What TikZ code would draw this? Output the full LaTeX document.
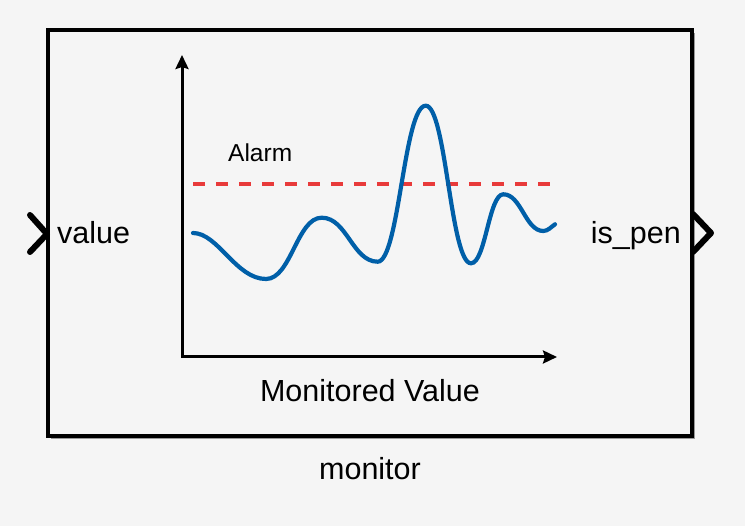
\documentclass[tikz,border=0pt]{standalone}
\usepackage{fontspec}
\setmainfont{Liberation Sans}
\usetikzlibrary{arrows.meta,shadows}
\definecolor{bggray}{HTML}{F5F5F5}
\definecolor{curveblue}{HTML}{005FA8}
\definecolor{alarmred}{HTML}{E83A3A}

\begin{document}
\begin{tikzpicture}[x=1pt,y=-1pt,
  label/.style={inner sep=0pt, anchor=base, font=\fontsize{30.5}{36}\selectfont},
  axis/.style={line width=3pt, line cap=rect, -{Stealth[length=14pt,width=13pt,inset=2pt]}},
  port/.style={line width=6pt, line cap=round, line join=round},
  alarm/.style={draw=alarmred, line width=3.8pt, dash pattern=on 12pt off 11pt},
  curve/.style={draw=curveblue, line width=4.2pt, line cap=round},
  block/.style={draw, line width=3.2pt, fill=bggray, minimum width=644pt, minimum height=406pt,
    drop shadow={shadow xshift=3pt, shadow yshift=-3pt, fill=black!40, opacity=1}}]

\fill[bggray] (0,0) rectangle (745,526);
\useasboundingbox (0,0) rectangle (745,526);

\node[block] (blk) at (370,233) {};

\draw[port] (30,215) -- (47,234) -- (30,252);
\draw[port] (693,214) -- (711,233) -- (693,252);

\node[label, anchor=base west] (inlbl) at (57,244) {value};
\node[label, anchor=base east] (outlbl) at (681,244) {is\_pen};
\node[label] (blkname) at (370,480) {monitor};

\coordinate (origin) at (182,357);
\coordinate (ytop) at (182,55);
\coordinate (xend) at (557,357);
\draw[axis] (origin) -- (ytop);
\draw[axis] (origin) -- (xend);
\node[label] (xlbl) at (370,402) {Monitored Value};

\node[label, anchor=base west, font=\fontsize{24.5}{29}\selectfont] (alarmlbl) at (228,162) {Alarm};
\coordinate (alarmstart) at (193,184);
\coordinate (alarmend) at (556,184);
\draw[alarm] (alarmstart) -- (alarmend);

\draw[curve] (193,233)
  .. controls (218,233) and (236,279) .. (266,279)
  .. controls (291,279) and (297,217.7) .. (321.7,217.7)
  .. controls (347,217.7) and (352.5,261.7) .. (377.7,261.7)
  .. controls (399,261.7) and (404,105.7) .. (425.7,105.7)
  .. controls (446,105.7) and (450.6,263.3) .. (471,263.3)
  .. controls (485.5,263.3) and (488.8,194.3) .. (503.3,194.3)
  .. controls (521.3,194.3) and (525.3,231) .. (543.3,231)
  .. controls (548,231) and (551,227) .. (555,224.3);
\end{tikzpicture}
\end{document}
